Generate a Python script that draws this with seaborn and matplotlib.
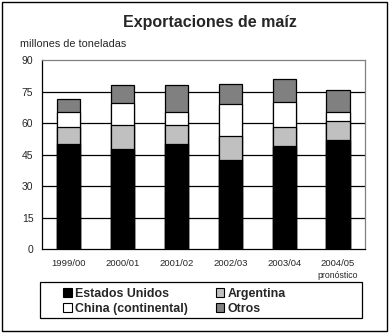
import numpy as np
import pandas as pd
import matplotlib
matplotlib.use("Agg")
import matplotlib.pyplot as plt
import seaborn as sns
from matplotlib.patches import Rectangle, Patch

categories = ["1999/00", "2000/01", "2001/02", "2002/03", "2003/04", "2004/05"]
estados_unidos = [50.0, 47.7, 49.9, 42.5, 49.0, 52.0]
argentina = [8.0, 11.6, 9.4, 11.5, 9.3, 8.9]
china = [7.4, 10.1, 6.1, 14.9, 11.6, 4.2]
otros = [6.2, 8.6, 12.6, 9.5, 11.2, 10.5]
series_names = ["Estados Unidos", "Argentina", "China (continental)", "Otros"]
series_colors = ["#000000", "#c0c0c0", "#ffffff", "#808080"]
y_ticks = [0, 15, 30, 45, 60, 75, 90]

sns.set_style("white")
plt.rcParams["font.family"] = ["Liberation Sans", "DejaVu Sans"]

df = pd.DataFrame({"cat": categories, "US": estados_unidos, "AR": argentina,
                   "CN": china, "OT": otros})
cum = df[["US", "AR", "CN", "OT"]].cumsum(axis=1)
cum["cat"] = categories

W, H = 389, 333
fig = plt.figure(figsize=(3.89, 3.33), dpi=100)
ax = fig.add_axes([41.7 / W, 1 - 249.3 / H, (365 - 41.7) / W, (249.3 - 60) / H])

for col, color in reversed(list(zip(["US", "AR", "CN", "OT"], series_colors))):
    sns.barplot(data=cum, x="cat", y=col, color=color, width=0.43,
                edgecolor="black", linewidth=0.9, saturation=1, ax=ax, zorder=3)

ax.set_ylim(0, 90)
ax.set_xlim(-0.5, 5.5)
ax.set_yticks(y_ticks)
ax.set_yticklabels([str(t) for t in y_ticks], fontsize=7.5)
for t in y_ticks[1:-1]:
    ax.axhline(t, color="black", linewidth=0.9, zorder=1)
ax.set_xticks(range(len(categories)))
ax.set_xticklabels(categories, fontsize=6.8)
ax.set_xticks(np.arange(-0.5, 6.0, 1.0), minor=True)
ax.tick_params(axis="x", which="major", length=0, pad=7)
ax.tick_params(axis="x", which="minor", length=4, width=0.9, color="black", direction="out")
ax.tick_params(axis="y", length=3, width=0.9, color="black", direction="out", pad=3)
ax.set_xlabel("")
ax.set_ylabel("")
for s in ["left", "bottom"]:
    ax.spines[s].set_color("black")
    ax.spines[s].set_linewidth(0.9)
for s in ["top", "right"]:
    ax.spines[s].set_visible(True)
    ax.spines[s].set_color("#808080")
    ax.spines[s].set_linewidth(0.9)

fig.text(210 / W, 1 - 23 / H, "Exportaciones de maíz", ha="center", va="center",
         fontsize=11.5, fontweight="bold")
fig.text(20 / W, 1 - 44 / H, "millones de toneladas", ha="left", va="center", fontsize=7.8)
fig.text(338 / W, 1 - 275.5 / H, "pronóstico", ha="center", va="center", fontsize=6.3)

# legend frame
fig.patches.append(Rectangle((40 / W, 1 - 318 / H), 322 / W, 36 / H,
                             transform=fig.transFigure, fill=False,
                             edgecolor="black", linewidth=0.9))
handles = [Patch(facecolor=c, edgecolor="black", linewidth=0.8) for c in series_colors]
order = [0, 2, 1, 3]
leg = fig.legend([handles[i] for i in order], [series_names[i] for i in order],
                 loc="upper left", bbox_to_anchor=(60 / W, 1 - 284.5 / H),
                 ncol=2, frameon=False,
                 prop={"weight": "bold", "size": 8.9}, handlelength=0.7,
                 handleheight=0.7, handletextpad=0.3, columnspacing=2.2,
                 borderpad=0.25, labelspacing=0.27, borderaxespad=0)

fig.patches.append(Rectangle((1.5 / W, 1 - 331 / H), 385 / W, 329.5 / H,
                             transform=fig.transFigure, fill=False,
                             edgecolor="black", linewidth=1.0))

fig.savefig("out.png", dpi=100, facecolor="white")
